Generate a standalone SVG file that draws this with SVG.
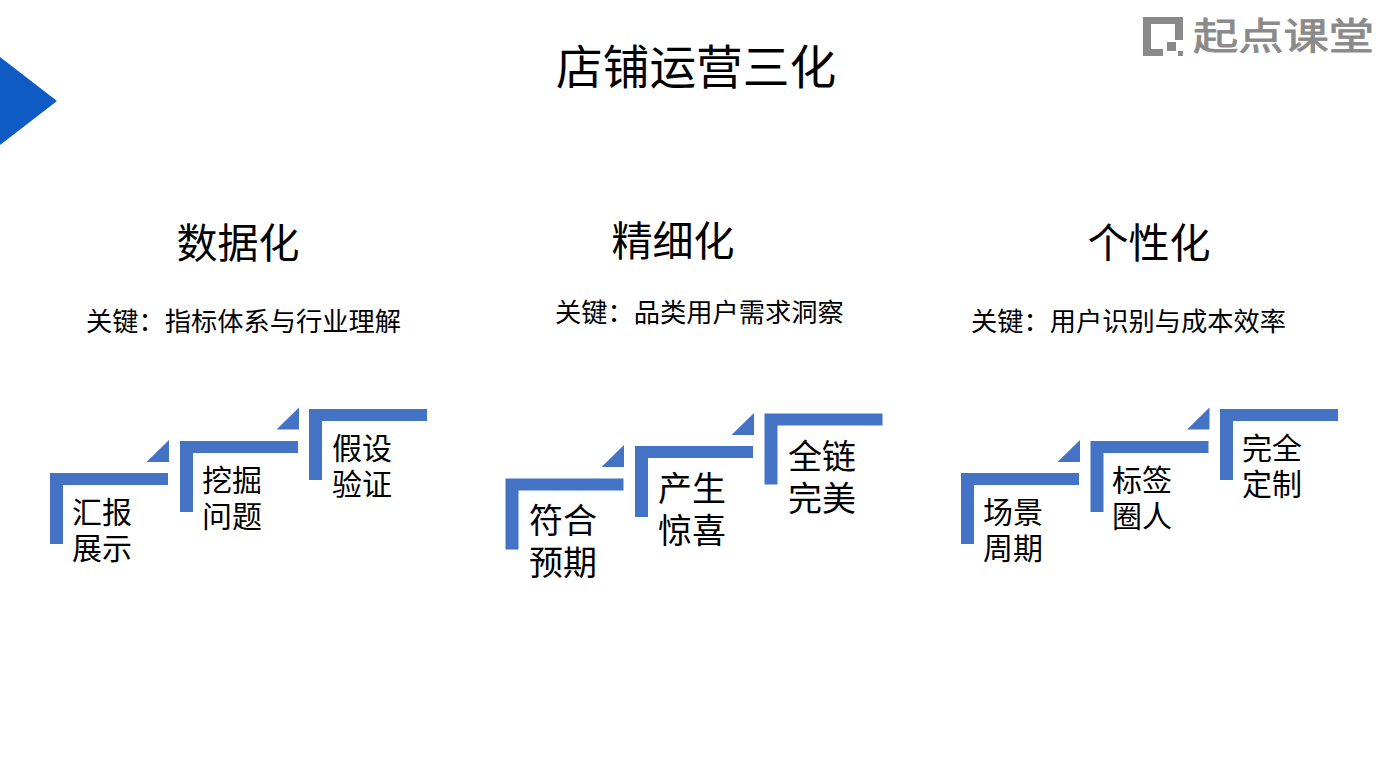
<svg xmlns="http://www.w3.org/2000/svg" width="1393" height="783" viewBox="0 0 1393 783">
<style>
text{font-family:"Noto Sans CJK SC","Noto Sans",sans-serif;fill:#000}
.title{font-size:46.7px}
.head{font-size:41px}
.key{font-size:26.25px}
.s{font-size:30px}
.l{font-size:34px}
.b{fill:#4472C4}
.logo{font-size:37px;fill:#8a8a8a;stroke:#8a8a8a;stroke-width:.8px}
</style>
<defs>
<path id="bracket" class="b" d="M0 0H118V12H13V71H0Z"/>
<path id="tri" class="b" d="M0 22H22.500V0Z"/>
</defs>
<rect width="1393" height="783" fill="#fff"/>
<path d="M0 57L57 101L0 145Z" fill="#0F5BC4"/>
<g id="logo">
<path d="M1143 17H1183V40H1175V24H1151V49H1163V56H1143Z" fill="#8a8a8a"/>
<rect x="1167" y="42" width="9" height="9" fill="#8a8a8a"/>
<rect x="1178" y="51" width="5" height="5" fill="#8a8a8a"/>
<text class="logo" x="1193" y="50" textLength="181" lengthAdjust="spacingAndGlyphs">起点课堂</text>
</g>
<text id="title" class="title" x="556" y="84">店铺运营三化</text>
<g id="col1">
<text class="head" x="176.500" y="258">数据化</text>
<text class="key" x="86" y="331">关键：指标体系与行业理解</text>
</g>
<g id="col2">
<text class="head" x="611.500" y="256">精细化</text>
<text class="key" x="555" y="322">关键：品类用户需求洞察</text>
</g>
<g id="col3">
<text class="head" x="1087.500" y="258">个性化</text>
<text class="key" x="971" y="331">关键：用户识别与成本效率</text>
</g>
<g id="n1"><use href="#bracket" x="50" y="473"/><use href="#tri" x="146.500" y="440"/><text class="s" y="523"><tspan x="72">汇报</tspan><tspan x="72" dy="36">展示</tspan></text></g>
<g id="n2"><use href="#bracket" x="180" y="441"/><use href="#tri" x="276.500" y="407.500"/><text class="s" y="491"><tspan x="202">挖掘</tspan><tspan x="202" dy="36">问题</tspan></text></g>
<g id="n3"><use href="#bracket" x="309" y="409"/><text class="s" y="459"><tspan x="332">假设</tspan><tspan x="332" dy="36">验证</tspan></text></g>
<g id="n4"><use href="#bracket" x="505.500" y="478.500"/><use href="#tri" x="601.500" y="445"/><text class="l" y="533"><tspan x="529">符合</tspan><tspan x="529" dy="42">预期</tspan></text></g>
<g id="n5"><use href="#bracket" x="635" y="446"/><use href="#tri" x="731.500" y="413"/><text class="l" y="501"><tspan x="658">产生</tspan><tspan x="658" dy="42">惊喜</tspan></text></g>
<g id="n6"><use href="#bracket" x="764.500" y="413.500"/><text class="l" y="469"><tspan x="788">全链</tspan><tspan x="788" dy="42">完美</tspan></text></g>
<g id="n7"><use href="#bracket" x="961" y="473"/><use href="#tri" x="1057.500" y="440"/><text class="s" y="523"><tspan x="983">场景</tspan><tspan x="983" dy="36">周期</tspan></text></g>
<g id="n8"><use href="#bracket" x="1090.500" y="441"/><use href="#tri" x="1187" y="407.500"/><text class="s" y="491"><tspan x="1112">标签</tspan><tspan x="1112" dy="36">圈人</tspan></text></g>
<g id="n9"><use href="#bracket" x="1220" y="409"/><text class="s" y="459"><tspan x="1242">完全</tspan><tspan x="1242" dy="36">定制</tspan></text></g>
<g id="connectors"></g>
</svg>
